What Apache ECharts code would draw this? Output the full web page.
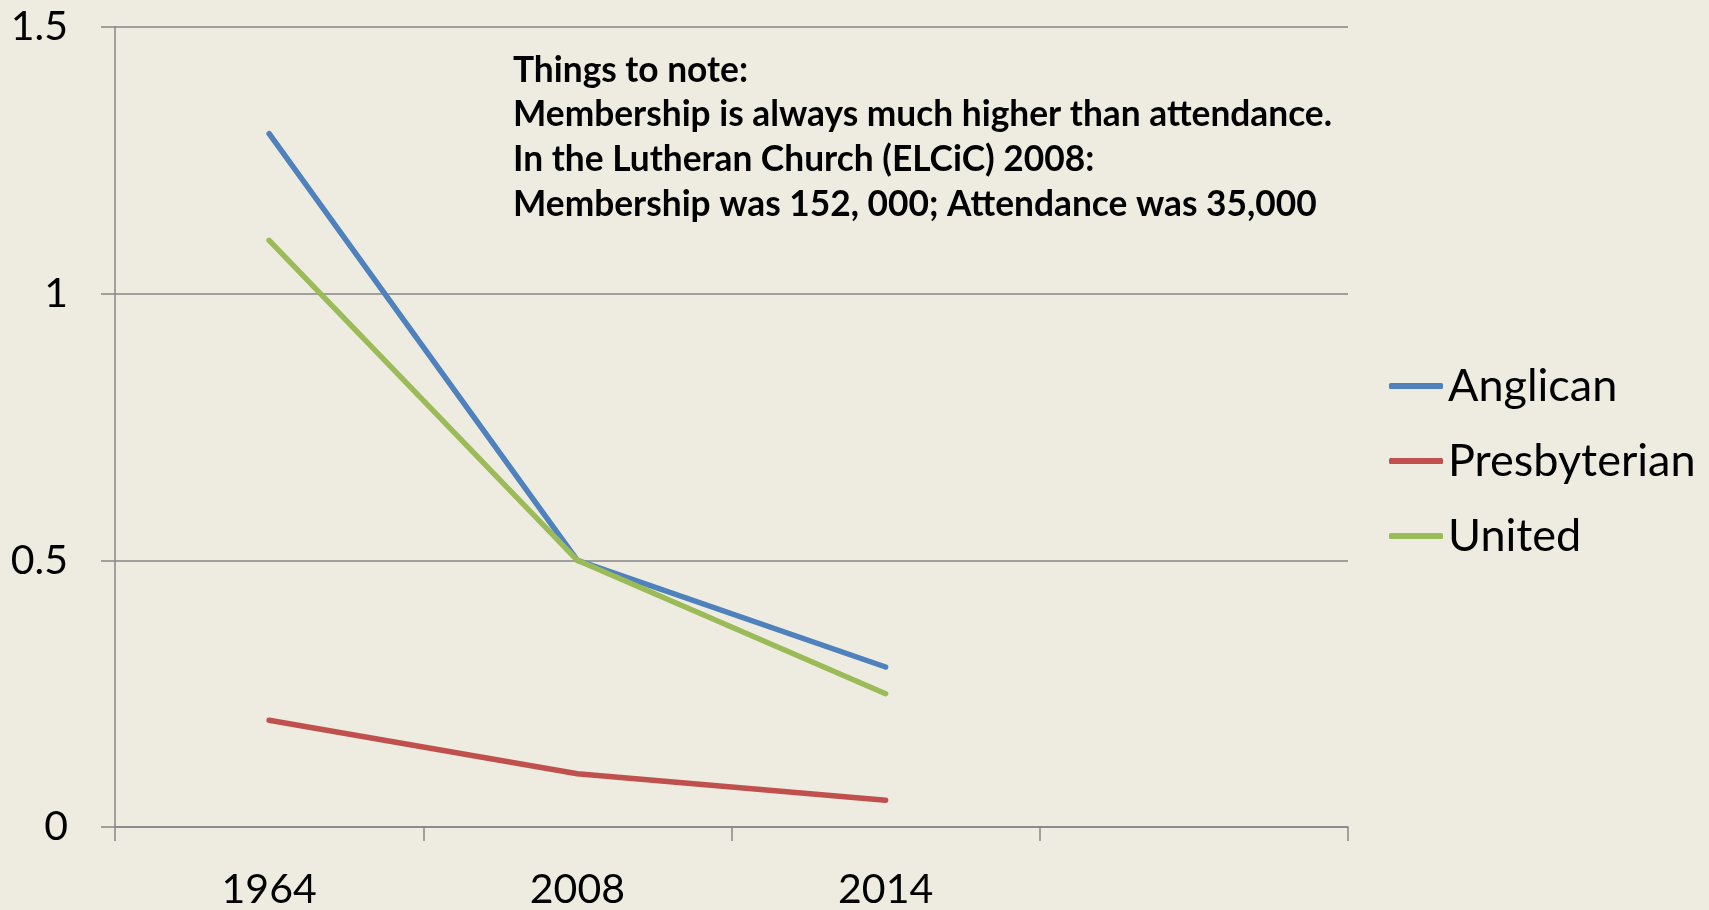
<!DOCTYPE html>
<html>
<head>
<meta charset="utf-8">
<script src="https://cdn.jsdelivr.net/npm/echarts@6/dist/echarts.min.js"></script>
<style>
html,body{margin:0;padding:0;background:#eeece1;}
#mychart{width:1709px;height:910px;}
</style>
</head>
<body>
<div id="mychart"></div>
<script>
// data
var years = ['1964', '2008', '2014', ''];
var anglican = [1.3, 0.5, 0.3];
var presbyterian = [0.2, 0.1, 0.05];
var united = [1.1, 0.5, 0.25];
var noteLines = [
    'Things to note:',
    'Membership is always much higher than attendance.',
    'In the Lutheran Church (ELCiC) 2008:',
    'Membership was 152, 000; Attendance was 35,000'
];

var font = 'Lato, "Open Sans", sans-serif';
var gridColor = '#868686';

var myChart = echarts.init(document.getElementById('mychart'));

var mkLine = function (name, color, data) {
    return {
        name: name,
        type: 'line',
        data: data,
        symbol: 'none',
        color: color,
        lineStyle: { width: 5.5, color: color, cap: 'round', join: 'round' },
        emphasis: { disabled: true }
    };
};

var option = {
    backgroundColor: '#eeece1',
    animation: false,
    grid: { left: 115, right: 361, top: 27, bottom: 81, containLabel: false },
    legend: {
        orient: 'vertical',
        left: 1384,
        top: 356,
        icon: 'roundRect',
        itemWidth: 54,
        itemHeight: 6,
        itemGap: 25,
        textStyle: { fontFamily: font, fontSize: 45, color: '#000', lineHeight: 50 },
        data: ['Anglican', 'Presbyterian', 'United']
    },
    xAxis: {
        type: 'category',
        boundaryGap: true,
        data: years,
        axisLine: { lineStyle: { color: gridColor, width: 1.5 } },
        axisTick: { show: true, length: 14, lineStyle: { color: gridColor, width: 1.5 } },
        axisLabel: { fontFamily: font, fontSize: 41, color: '#000', margin: 42 },
        splitLine: { show: false }
    },
    yAxis: {
        type: 'value',
        min: 0,
        max: 1.5,
        interval: 0.5,
        axisLine: { show: true, lineStyle: { color: gridColor, width: 1.5 } },
        axisTick: { show: true, length: 14, lineStyle: { color: gridColor, width: 1.5 } },
        axisLabel: { fontFamily: font, fontSize: 41, color: '#000', margin: 47 },
        splitLine: { show: true, lineStyle: { color: gridColor, width: 1.5 } }
    },
    graphic: [{
        type: 'text',
        left: 513,
        top: 48,
        style: {
            text: noteLines.join('\n'),
            font: 'bold 35.3px ' + font,
            lineHeight: 44.7,
            fill: '#000'
        }
    }],
    series: [
        mkLine('Anglican', '#4f81bd', anglican),
        mkLine('Presbyterian', '#c0504d', presbyterian),
        mkLine('United', '#9bbb59', united)
    ]
};

myChart.setOption(option);
</script>
</body>
</html>
